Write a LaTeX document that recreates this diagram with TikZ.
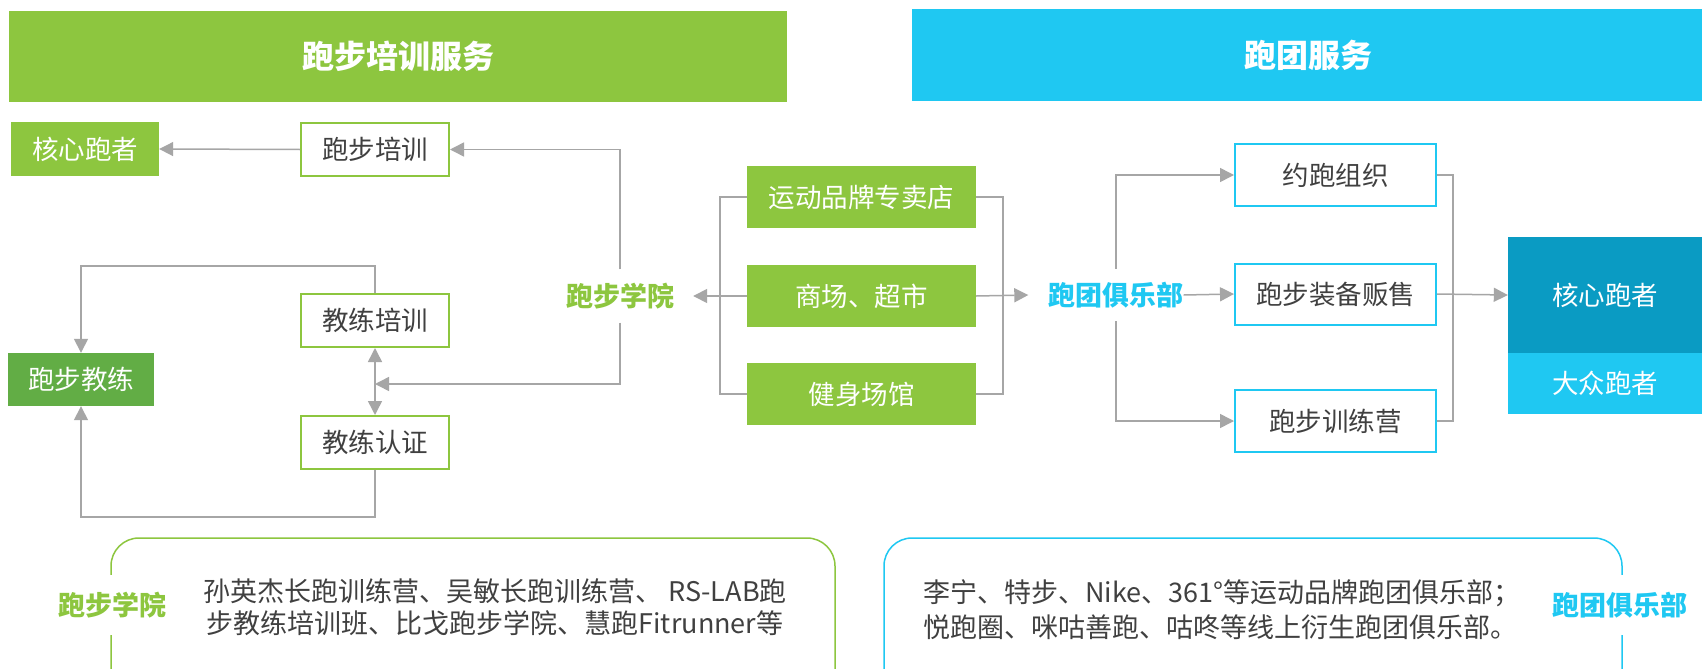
\documentclass[tikz,border=0pt]{standalone}
\usepackage{fontspec}
\setmainfont{Noto Sans CJK SC}
\usetikzlibrary{arrows.meta}
\definecolor{gr}{HTML}{8DC63F}
\definecolor{dgr}{HTML}{62AD45}
\definecolor{bl}{HTML}{1FC8F2}
\definecolor{dbl}{HTML}{0A9BC3}
\definecolor{ln}{HTML}{A6A6A6}
\definecolor{tx}{HTML}{404040}
\tikzset{
  conn/.style={draw=ln, line width=1.5pt},
  arr/.style={conn, -{Triangle[length=14pt,width=14pt]}},
  boxfont/.style={font=\fontsize{26.5}{31}\selectfont},
  gfill/.style={boxfont, fill=gr, text=white, inner sep=0pt},
  gbox/.style={boxfont, draw=gr, line width=2pt, fill=white, text=tx, inner sep=0pt},
  bbox/.style={boxfont, draw=bl, line width=2pt, fill=white, text=tx, inner sep=0pt},
  glabel/.style={font=\fontsize{27}{31}\selectfont\bfseries, text=gr, fill=white, inner xsep=20pt, inner ysep=0pt, minimum height=53pt},
  blabel/.style={font=\fontsize{27}{31}\selectfont\bfseries, text=bl, fill=white, inner xsep=20pt, inner ysep=0pt, minimum height=52pt},
  header/.style={font=\fontsize{32}{36}\selectfont\bfseries, text=white, inner sep=0pt},
  desc/.style={font=\fontsize{27}{32}\selectfont, text=tx, inner sep=0pt},
}
\begin{document}
\begin{tikzpicture}[x=1pt,y=-1pt]
\clip (0,0) rectangle (1702,669);
\fill[white] (0,0) rectangle (1702,669);
% headers
\fill[gr] (9,11) rectangle (787,102);
\fill[bl] (912,9) rectangle (1702,101);
\node[header] (h1) at (398,56) {跑步培训服务};
\node[header] (h2) at (1308,55) {跑团服务};
% left part
\node[gfill, minimum width=148pt, minimum height=54pt] (kc1) at (85,149) {核心跑者};
\node[gbox, minimum width=148pt, minimum height=53pt] (pbpx) at (375,149.5) {跑步培训};
\node[gbox, minimum width=148pt, minimum height=53pt] (jlpx) at (375,320.5) {教练培训};
\node[gbox, minimum width=148pt, minimum height=53pt] (jlrz) at (375,442.5) {教练认证};
\node[boxfont, fill=dgr, text=white, inner sep=0pt, minimum width=146pt, minimum height=53pt] (pbjl) at (81,379.5) {跑步教练};
\node[glabel] (xy) at (620,296) {跑步学院};
\coordinate (m1) at (375,384);
\coordinate (t1) at (375,266);
\coordinate (b1) at (375,517);
\draw[arr] (pbpx.west) -- (kc1.east);
\draw[arr] (xy.north) |- (pbpx.east);
\draw[arr] (xy.south) |- (m1);
\draw[arr] (m1) -- (jlpx.south);
\draw[arr] (m1) -- (jlrz.north);
\draw[arr] (jlpx.north) -- (t1) -| (pbjl.north);
\draw[arr] (jlrz.south) -- (b1) -| (pbjl.south);
% middle
\node[gfill, minimum width=229pt, minimum height=62pt] (s1) at (861.5,197) {运动品牌专卖店};
\node[gfill, minimum width=229pt, minimum height=62pt] (s2) at (861.5,296) {商场、超市};
\node[gfill, minimum width=229pt, minimum height=62pt] (s3) at (861.5,394) {健身场馆};
\coordinate (lb1) at (720,197);
\coordinate (lb3) at (720,394);
\coordinate (rb1) at (1003,197);
\coordinate (rb3) at (1003,394);
\draw[conn] (s1.west) -- (lb1) -- (lb3) -- (s3.west);
\draw[conn] (s1.east) -- (rb1) -- (rb3) -- (s3.east);
\draw[arr] (s2.west) -- ([xshift=-1pt]xy.east);
\node[blabel] (jtl) at (1116,295) {跑团俱乐部};
\draw[arr] (s2.east) -- (jtl.west);
% right
\node[bbox, minimum width=201pt, minimum height=62pt] (r1) at (1335.5,175) {约跑组织};
\node[bbox, minimum width=201pt, minimum height=61pt] (r2) at (1335.5,294) {跑步装备贩售};
\node[bbox, minimum width=201pt, minimum height=62pt] (r3) at (1335.5,421) {跑步训练营};
\draw[arr] (jtl.north) |- (r1.west);
\draw[arr] (jtl.south) |- (r3.west);
\draw[arr] ([xshift=-20pt]jtl.east) -- (r2.west);
\coordinate (rr1) at (1453,175);
\coordinate (rr3) at (1453,421);
\draw[conn] (r1.east) -- (rr1) -- (rr3) -- (r3.east);
\node[boxfont, fill=dbl, text=white, inner sep=0pt, minimum width=194pt, minimum height=116pt] (kc2) at (1605,295) {核心跑者};
\node[boxfont, fill=bl, text=white, inner sep=0pt, minimum width=194pt, minimum height=61pt] (dz) at (1605,383.5) {大众跑者};
\draw[arr] (r2.east) -- (kc2.west);
% bottom
\draw[gr, line width=1.5pt, rounded corners=28pt] (111,538) rectangle (835,720);
\draw[bl, line width=1.5pt, rounded corners=28pt] (884,538) rectangle (1622,720);
\node[glabel, inner xsep=4pt, minimum height=60pt] (bl1) at (112,605) {跑步学院};
\node[blabel, inner xsep=4pt, minimum height=60pt] (bl2) at (1620,605) {跑团俱乐部};
\node[desc, align=center] (d1) at (495,607.5) {孙英杰长跑训练营、吴敏长跑训练营、 RS-LAB跑\\步教练培训班、比戈跑步学院、慧跑Fitrunner等};
\node[desc, align=left, anchor=west] (d2) at (923,609.5) {李宁、特步、Nike、361°等运动品牌跑团俱乐部；\\[3pt]悦跑圈、咪咕善跑、咕咚等线上衍生跑团俱乐部。};
\end{tikzpicture}
\end{document}
